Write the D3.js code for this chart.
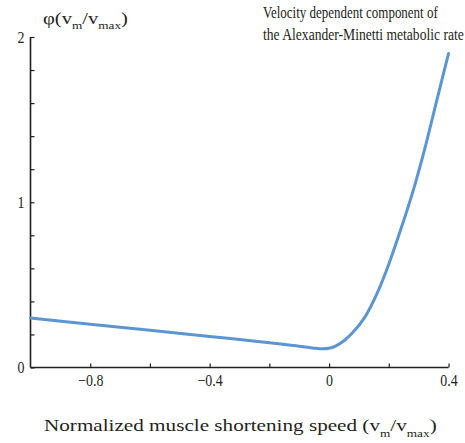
<!DOCTYPE html>
<html><head><meta charset="utf-8">
<script src="https://cdn.jsdelivr.net/npm/d3@7"></script>
</head><body style="margin:0">
<script>
const speeds = [-1, -0.8, -0.6, -0.4, -0.2, -0.1, -0.05, -0.02, 0, 0.02, 0.05, 0.08, 0.12, 0.16, 0.2, 0.24, 0.28, 0.32, 0.36, 0.4];
const phiValues = [0.30, 0.262, 0.225, 0.188, 0.15, 0.128, 0.117, 0.113, 0.116, 0.128, 0.162, 0.213, 0.305, 0.445, 0.625, 0.835, 1.06, 1.32, 1.61, 1.90];
const xTicks = [-0.8, -0.6, -0.4, -0.2, 0, 0.2, 0.4];
const xTickLabels = ["\u22120.8", "", "\u22120.4", "", "0", "", "0.4"];
const yTicks = [0, 0.2, 0.4, 0.6, 0.8, 1, 1.2, 1.4, 1.6, 1.8, 2];
const yTickLabels = ["0", "", "", "", "", "1", "", "", "", "", "2"];

const FONT = "Liberation Serif, Times New Roman, serif";
const INK = "#231f20";
const SX = 0.82;
const W = 465, H = 443;
const svg = d3.select("body").append("svg").attr("width", W).attr("height", H).attr("font-family", FONT);
const x = d3.scaleLinear().domain([-1, 0.4]).range([30.5, 448.5]);
const y = d3.scaleLinear().domain([0, 2]).range([367.5, 37]);

const xAxis = d3.axisBottom(x).tickValues(xTicks).tickSize(-4).tickPadding(6)
  .tickFormat((d, i) => xTickLabels[i]);
const gx = svg.append("g").attr("transform", `translate(0,${y(0)})`).call(xAxis);
gx.select(".domain").attr("d", `M${x(-1)},0H${x(0.4)}`);
const yAxis = d3.axisLeft(y).tickValues(yTicks).tickSize(-4).tickPadding(0)
  .tickFormat((d, i) => yTickLabels[i]);
const gy = svg.append("g").attr("transform", `translate(${x(-1)},0)`).call(yAxis);
gy.select(".domain").attr("d", `M0,${y(2)}V${y(0)}`);
[gx, gy].forEach(g => {
  g.attr("font-family", FONT).attr("font-size", 17);
  g.selectAll(".domain").attr("stroke", INK).attr("stroke-width", 1.6);
  g.selectAll(".tick line").attr("stroke", INK).attr("stroke-width", 1.2);
  g.selectAll(".tick text").attr("fill", INK).attr("font-family", FONT).attr("font-size", 17);
});
gx.selectAll(".tick text").attr("transform", `scale(${SX},1)`);
gy.selectAll(".tick text").attr("x", -6 / SX).attr("transform", `scale(${SX},1)`);

const line = d3.line().x((d, i) => x(speeds[i])).y(d => y(d)).curve(d3.curveCatmullRom.alpha(0.5));
svg.append("path").datum(phiValues).attr("d", line).attr("fill", "none")
  .attr("stroke", "#5b95d2").attr("stroke-width", 3).attr("stroke-linecap", "round");

function label(x0, y0, targetW, parts, size, subSize, subDy) {
  const t = svg.append("text").attr("font-family", FONT).attr("font-size", size).attr("fill", INK);
  parts.forEach(p => {
    const s = t.append("tspan").text(p[0]);
    if (p[1]) s.attr("font-size", subSize).attr("dy", subDy);
    else if (p[2]) s.attr("dy", -subDy);
  });
  const w = t.node().getComputedTextLength();
  t.attr("transform", `translate(${x0},${y0}) scale(${targetW / w},1)`);
  return t;
}
label(43, 24, 85, [["\u03c6(v"], ["m", 1], ["/v", 0, 1], ["max", 1], [")", 0, 1]], 17, 11, 5);
label(263, 18, 175, [["Velocity dependent component of"]], 17);
label(263, 40, 201, [["the Alexander-Minetti metabolic rate"]], 17);
label(44, 431, 393, [["Normalized muscle shortening speed (v"], ["m", 1], ["/v", 0, 1], ["max", 1], [")", 0, 1]], 17.5, 11, 6);
</script>
</body></html>
